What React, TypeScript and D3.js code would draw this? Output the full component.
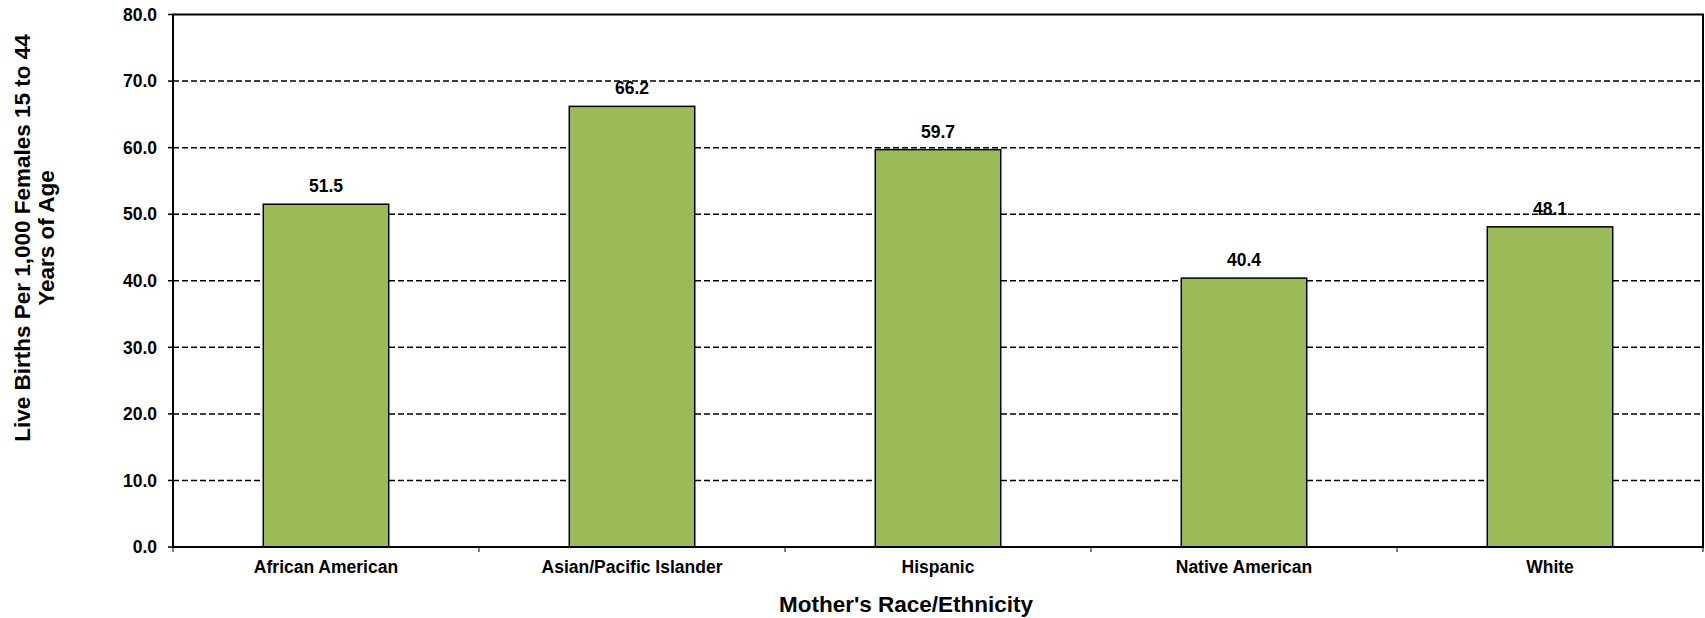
import React from "react";
import * as d3 from "d3";

const categories = ["African American", "Asian/Pacific Islander", "Hispanic", "Native American", "White"];
const values = [51.5, 66.2, 59.7, 40.4, 48.1];
const yTicks = [0, 10, 20, 30, 40, 50, 60, 70, 80];
const yTitleLines = ["Live Births Per 1,000 Females 15 to 44", "Years of Age"];
const xTitle = "Mother's Race/Ethnicity";

const W = 1705;
const H = 618;
const left = 173;
const right = 1703;
const top = 14.5;
const bottom = 547;
const font = "'Liberation Sans', Arial, Helvetica, sans-serif";

export default function App() {
  const x = d3.scaleBand<string>().domain(categories).range([left, right]).paddingInner(0.59).paddingOuter(0.295);
  const xb = d3.scaleBand<string>().domain(categories).range([left, right]);
  const y = d3.scaleLinear().domain([0, 80]).range([bottom, top]);
  const bounds = [left, ...categories.map((c) => (xb(c) as number) + xb.bandwidth())];

  return (
    <div style={{ position: "fixed", left: 0, top: 0 }}>
      <svg width={W} height={H} style={{ display: "block", background: "#fff" }} fontFamily={font} fontWeight="bold">
        {/* gridlines */}
        {yTicks.filter((t) => t > 0 && t < 80).map((t) => (
          <line key={"g" + t} x1={left} x2={right} y1={y(t)} y2={y(t)} stroke="#000" strokeWidth={1.5} strokeDasharray="6,3" />
        ))}
        {/* bars */}
        {categories.map((c, i) => (
          <rect key={c} x={x(c)} y={y(values[i])} width={x.bandwidth()} height={bottom - y(values[i])}
            fill="#9BBB59" stroke="#000" strokeWidth={1.5} />
        ))}
        {/* value labels */}
        {categories.map((c, i) => (
          <text key={"v" + c} x={(x(c) as number) + x.bandwidth() / 2} y={y(values[i]) - 12}
            textAnchor="middle" fontSize={17.5} fill="#000">{values[i].toFixed(1)}</text>
        ))}
        {/* plot border */}
        <rect x={left} y={top} width={right - left} height={bottom - top} fill="none" stroke="#000" strokeWidth={2} />
        {/* y ticks and labels */}
        {yTicks.map((t) => (
          <g key={"y" + t}>
            <line x1={left - 5} x2={left} y1={y(t)} y2={y(t)} stroke="#000" strokeWidth={1.5} />
            <text x={157} y={y(t)} dy="0.36em" textAnchor="end" fontSize={17.5} fill="#000">{t.toFixed(1)}</text>
          </g>
        ))}
        {/* x ticks */}
        {bounds.map((b, i) => (
          <line key={"xt" + i} x1={b} x2={b} y1={bottom} y2={bottom + 5} stroke="#000" strokeWidth={1} />
        ))}
        {/* category labels */}
        {categories.map((c) => (
          <text key={"c" + c} x={(xb(c) as number) + xb.bandwidth() / 2} y={573} textAnchor="middle" fontSize={17.5} fill="#000">{c}</text>
        ))}
        {/* axis titles */}
        <text x={906} y={612} textAnchor="middle" fontSize={22.5} fill="#000">{xTitle}</text>
        {yTitleLines.map((l, i) => (
          <text key={"yt" + i} transform={`translate(${22 + i * 24},238) rotate(-90)`} dy="0.36em" textAnchor="middle" fontSize={22.5} fill="#000">{l}</text>
        ))}
      </svg>
    </div>
  );
}
